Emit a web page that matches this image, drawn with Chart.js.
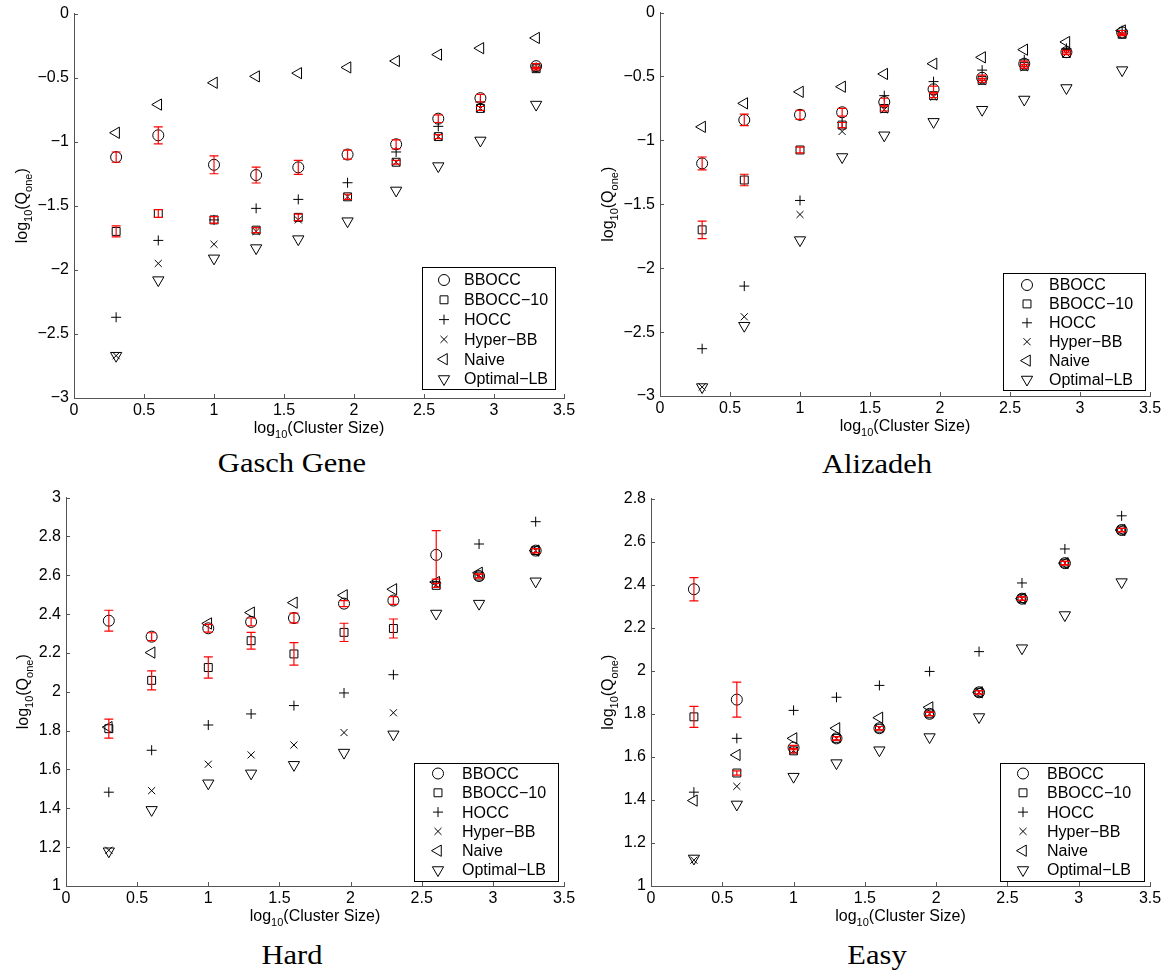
<!DOCTYPE html>
<html>
<head>
<meta charset="utf-8">
<title>Q_one vs cluster size</title>
<script src="https://cdn.jsdelivr.net/npm/chart.js@4.4.1/dist/chart.umd.min.js"></script>
<style>
  body { margin: 0; background: #fff; }
  #fig { position: relative; width: 1171px; height: 976px; overflow: hidden; background: #fff; }
  #fig canvas { position: absolute; }
  .caption {
    position: absolute; width: 300px; text-align: center; white-space: nowrap;
    font-family: "Liberation Serif", "Times New Roman", serif; font-size: 27px; line-height: 27px;
    transform: scaleX(1.13); color: #000;
  }
</style>
</head>
<body>
<div id="fig">
  <canvas id="gasch"></canvas>
  <canvas id="alizadeh"></canvas>
  <canvas id="hard"></canvas>
  <canvas id="easy"></canvas>
  <div class="caption" style="left:142px; top:450px">Gasch Gene</div>
  <div class="caption" style="left:727px; top:451px">Alizadeh</div>
  <div class="caption" style="left:142px; top:942px">Hard</div>
  <div class="caption" style="left:727px; top:942px">Easy</div>
</div>
<script>
// log10 of the cluster sizes
const clusterLog = [0.301, 0.602, 1, 1.301, 1.602, 1.954, 2.301, 2.602, 2.903, 3.301];
const seriesNames = ['BBOCC', 'BBOCC\u221210', 'HOCC', 'Hyper\u2212BB', 'Naive', 'Optimal\u2212LB'];
const xTicks = [0, 0.5, 1, 1.5, 2, 2.5, 3, 3.5];

// Gasch Gene
const gaschBBOCC     = [-1.12, -0.95, -1.18, -1.26, -1.20, -1.10, -1.02, -0.82, -0.66, -0.41];
const gaschBBOCCErr  = [0.04, 0.066, 0.07, 0.062, 0.055, 0.035, 0.035, 0.03, 0.03, 0.02];
const gaschBBOCC10   = [-1.70, -1.56, -1.61, -1.69, -1.59, -1.43, -1.16, -0.96, -0.74, -0.43];
const gaschBBOCC10Err = [0.043, 0.03, 0.025, 0.02, 0.025, 0.02, 0.015, 0.015, 0.015, 0.01];
const gaschHOCC      = [-2.37, -1.77, -1.61, -1.52, -1.45, -1.32, -1.08, -0.88, -0.69, -0.42];
const gaschHyperBB   = [-2.67, -1.95, -1.80, -1.70, -1.61, -1.43, -1.16, -0.96, -0.74, -0.43];
const gaschNaive     = [-0.93, -0.71, -0.54, -0.49, -0.465, -0.42, -0.37, -0.32, -0.27, -0.19];
const gaschOptimalLB = [-2.67, -2.08, -1.91, -1.83, -1.76, -1.62, -1.38, -1.19, -0.99, -0.71];

// Alizadeh
const alizBBOCC      = [-1.18, -0.84, -0.80, -0.78, -0.70, -0.60, -0.51, -0.40, -0.31, -0.155];
const alizBBOCCErr   = [0.05, 0.045, 0.035, 0.03, 0.03, 0.025, 0.02, 0.02, 0.015, 0.015];
const alizBBOCC10    = [-1.70, -1.31, -1.075, -0.88, -0.75, -0.65, -0.53, -0.42, -0.32, -0.17];
const alizBBOCC10Err = [0.068, 0.045, 0.022, 0.02, 0.02, 0.015, 0.015, 0.015, 0.01, 0.01];
const alizHOCC       = [-2.63, -2.14, -1.47, -0.86, -0.65, -0.54, -0.45, -0.37, -0.28, -0.14];
const alizHyperBB    = [-2.93, -2.38, -1.58, -0.93, -0.76, -0.66, -0.54, -0.43, -0.32, -0.17];
const alizNaive      = [-0.894, -0.71, -0.62, -0.58, -0.48, -0.40, -0.35, -0.29, -0.23, -0.14];
const alizOptimalLB  = [-2.93, -2.45, -1.78, -1.13, -0.96, -0.855, -0.76, -0.68, -0.59, -0.45];

// Hard
const hardBBOCC      = [2.366, 2.284, 2.327, 2.36, 2.38, 2.454, 2.47, 2.705, 2.596, 2.727];
const hardBBOCCErr   = [0.054, 0.02, 0.02, 0.02, 0.025, 0.015, 0.02, 0.125, 0.01, 0.01];
const hardBBOCC10    = [1.81, 2.059, 2.125, 2.263, 2.195, 2.306, 2.326, 2.548, 2.596, 2.727];
const hardBBOCC10Err = [0.049, 0.049, 0.055, 0.043, 0.058, 0.047, 0.049, 0.01, 0.01, 0.01];
const hardHOCC       = [1.483, 1.699, 1.829, 1.886, 1.929, 1.994, 2.088, 2.56, 2.761, 2.876];
const hardHyperBB    = [1.184, 1.491, 1.627, 1.675, 1.726, 1.79, 1.892, 2.55, 2.60, 2.727];
const hardNaive      = [1.818, 2.202, 2.352, 2.408, 2.459, 2.497, 2.528, 2.565, 2.613, 2.727];
const hardOptimalLB  = [1.179, 1.392, 1.529, 1.58, 1.624, 1.687, 1.781, 2.403, 2.454, 2.569];

// Easy
const easyBBOCC      = [2.379, 1.866, 1.643, 1.686, 1.733, 1.80, 1.90, 2.335, 2.50, 2.654];
const easyBBOCCErr   = [0.054, 0.081, 0.01, 0.008, 0.008, 0.008, 0.008, 0.008, 0.008, 0.008];
const easyBBOCC10    = [1.786, 1.525, 1.628, 1.686, 1.733, 1.80, 1.90, 2.335, 2.50, 2.654];
const easyBBOCC10Err = [0.049, 0.01, 0.01, 0.008, 0.008, 0.008, 0.008, 0.008, 0.008, 0.008];
const easyHOCC       = [1.436, 1.686, 1.816, 1.877, 1.932, 1.997, 2.089, 2.408, 2.566, 2.72];
const easyHyperBB    = [1.12, 1.463, 1.63, 1.686, 1.733, 1.80, 1.90, 2.335, 2.50, 2.654];
const easyNaive      = [1.397, 1.609, 1.686, 1.733, 1.782, 1.83, 1.90, 2.335, 2.50, 2.654];
const easyOptimalLB  = [1.128, 1.379, 1.508, 1.571, 1.631, 1.692, 1.785, 2.105, 2.259, 2.412];

const AXIS_GREY = '#555';
const SANS = '"Liberation Sans", Arial, Helvetica, sans-serif';
const PAD_L = 70, PAD_T = 12, PAD_R = 20, PAD_B = 40;

const markers = [
  { pointStyle: 'circle',   radius: 5.5, rotation: 0 },
  { pointStyle: 'rect',     radius: 5.6, rotation: 0 },
  { pointStyle: 'cross',    radius: 5,   rotation: 0 },
  { pointStyle: 'crossRot', radius: 5,   rotation: 0 },
  { pointStyle: 'triangle', radius: 6.5, rotation: 270 },
  { pointStyle: 'triangle', radius: 6.5, rotation: 180 }
];

const xTitle = [{ t: 'log' }, { t: '10', sub: true }, { t: '(Cluster Size)' }];
const yTitle = [{ t: 'log' }, { t: '10', sub: true }, { t: '(Q' }, { t: 'one', sub: true }, { t: ')' }];

function fmtTick(v) {
  return String(+Number(v).toFixed(2)).replace('-', '\u2212');
}

// text with subscripts, centred on (cx, cy)
function drawRich(ctx, parts, cx, cy) {
  const big = '16px ' + SANS, small = '11px ' + SANS;
  let w = 0;
  const widths = parts.map(p => {
    ctx.font = p.sub ? small : big;
    const m = ctx.measureText(p.t).width;
    w += m;
    return m;
  });
  let x = cx - w / 2;
  ctx.textAlign = 'left';
  ctx.textBaseline = 'alphabetic';
  ctx.fillStyle = '#000';
  parts.forEach((p, i) => {
    ctx.font = p.sub ? small : big;
    ctx.fillText(p.t, x, cy + 6 + (p.sub ? 5 : 0));
    x += widths[i];
  });
}

// error bars, inward ticks, axis titles and the boxed legend
const panelDecor = {
  id: 'panelDecor',
  afterDatasetsDraw(chart) {
    const ctx = chart.ctx, xs = chart.scales.x, ys = chart.scales.y;
    const cap = 4.5;
    ctx.save();
    ctx.strokeStyle = '#ff0000';
    ctx.lineWidth = 1.2;
    chart.data.datasets.forEach(ds => {
      if (!ds.yErr) return;
      ds.data.forEach((p, i) => {
        const px = xs.getPixelForValue(p.x);
        const top = ys.getPixelForValue(p.y + ds.yErr[i]);
        const bot = ys.getPixelForValue(p.y - ds.yErr[i]);
        ctx.beginPath();
        ctx.moveTo(px, top); ctx.lineTo(px, bot);
        ctx.moveTo(px - cap, top); ctx.lineTo(px + cap, top);
        ctx.moveTo(px - cap, bot); ctx.lineTo(px + cap, bot);
        ctx.stroke();
      });
    });
    ctx.restore();
  },
  afterDraw(chart, args, opts) {
    const ctx = chart.ctx, xs = chart.scales.x, ys = chart.scales.y;
    const area = chart.chartArea;
    ctx.save();

    // ticks point into the axes
    ctx.strokeStyle = AXIS_GREY;
    ctx.lineWidth = 1;
    ctx.beginPath();
    xs.ticks.forEach(t => {
      const px = Math.round(xs.getPixelForValue(t.value)) + 0.5;
      ctx.moveTo(px, area.bottom); ctx.lineTo(px, area.bottom - 4);
    });
    ys.ticks.forEach(t => {
      const py = Math.round(ys.getPixelForValue(t.value)) + 0.5;
      ctx.moveTo(area.left, py); ctx.lineTo(area.left + 4, py);
    });
    ctx.stroke();

    // axis titles
    drawRich(ctx, xTitle, (area.left + area.right) / 2, area.bottom + 29);
    ctx.save();
    ctx.translate(area.left - opts.yTitleGap, (area.top + area.bottom) / 2);
    ctx.rotate(-Math.PI / 2);
    drawRich(ctx, yTitle, 0, 0);
    ctx.restore();

    // legend box
    const lg = opts.legend;
    const bx = Math.round(lg.left - opts.originX) + 0.5;
    const by = Math.round(lg.top - opts.originY) + 0.5;
    ctx.fillStyle = '#fff';
    ctx.fillRect(bx, by, lg.width, lg.height);
    ctx.strokeStyle = '#000';
    ctx.strokeRect(bx, by, lg.width, lg.height);
    ctx.font = '16px ' + SANS;
    ctx.textAlign = 'left';
    ctx.textBaseline = 'middle';
    seriesNames.forEach((name, i) => {
      const ry = lg.firstRow - opts.originY + i * lg.rowStep;
      const m = markers[i];
      ctx.strokeStyle = '#000';
      ctx.fillStyle = 'rgba(0,0,0,0)';
      ctx.lineWidth = 1;
      Chart.helpers.drawPoint(ctx, { pointStyle: m.pointStyle, rotation: m.rotation, radius: m.radius, borderWidth: 1 },
        lg.markerX - opts.originX, ry);
      ctx.fillStyle = '#000';
      ctx.fillText(name, lg.textX - opts.originX, ry + 1);
    });
    ctx.restore();
  }
};

function makePanel(id, rect, yAxis, series, errs, legend, yTitleGap) {
  const canvas = document.getElementById(id);
  const originX = rect.l - PAD_L, originY = rect.t - PAD_T;
  canvas.style.left = originX + 'px';
  canvas.style.top = originY + 'px';
  canvas.width = rect.r - rect.l + PAD_L + PAD_R;
  canvas.height = rect.b - rect.t + PAD_T + PAD_B;

  const datasets = series.map((vals, i) => ({
    label: seriesNames[i],
    data: clusterLog.map((x, j) => ({ x: x, y: vals[j] })),
    yErr: errs[i],
    pointStyle: markers[i].pointStyle,
    pointRotation: markers[i].rotation,
    pointRadius: markers[i].radius,
    pointBorderWidth: 1,
    pointBorderColor: '#000',
    pointBackgroundColor: 'rgba(0,0,0,0)',
    showLine: false
  }));

  return new Chart(canvas, {
    type: 'scatter',
    data: { datasets: datasets },
    plugins: [panelDecor],
    options: {
      responsive: false,
      animation: false,
      events: [],
      layout: { padding: { left: 0, top: PAD_T, right: PAD_R, bottom: 0 }, autoPadding: false },
      plugins: {
        legend: { display: false },
        tooltip: { enabled: false },
        panelDecor: { legend: legend, originX: originX, originY: originY, yTitleGap: yTitleGap }
      },
      scales: {
        x: {
          type: 'linear', min: 0, max: 3.5,
          afterFit: s => { s.height = PAD_B; },
          afterBuildTicks: s => { s.ticks = xTicks.map(v => ({ value: v })); },
          grid: { display: false, drawTicks: false },
          border: { color: AXIS_GREY, width: 1 },
          ticks: { padding: 3, color: '#000', font: { family: SANS, size: 16 }, maxRotation: 0, autoSkip: false, callback: fmtTick }
        },
        y: {
          type: 'linear', min: yAxis.min, max: yAxis.max,
          afterFit: s => { s.width = PAD_L; },
          afterBuildTicks: s => { s.ticks = yAxis.ticks.map(v => ({ value: v })); },
          grid: { display: false, drawTicks: false },
          border: { color: AXIS_GREY, width: 1 },
          ticks: { padding: 5, color: '#000', font: { family: SANS, size: 16 }, autoSkip: false, callback: fmtTick }
        }
      }
    }
  });
}

const negTicks = [-3, -2.5, -2, -1.5, -1, -0.5, 0];
const hardTicks = [1, 1.2, 1.4, 1.6, 1.8, 2, 2.2, 2.4, 2.6, 2.8, 3];
const easyTicks = [1, 1.2, 1.4, 1.6, 1.8, 2, 2.2, 2.4, 2.6, 2.8];

makePanel('gasch', { l: 74, t: 11, r: 564, b: 398 }, { min: -3, max: 0, ticks: negTicks },
  [gaschBBOCC, gaschBBOCC10, gaschHOCC, gaschHyperBB, gaschNaive, gaschOptimalLB],
  [gaschBBOCCErr, gaschBBOCC10Err],
  { left: 422, top: 267, width: 133, height: 122, markerX: 444, textX: 464, firstRow: 280, rowStep: 19.8 }, 53);

makePanel('alizadeh', { l: 660, t: 10, r: 1150, b: 396 }, { min: -3, max: 0, ticks: negTicks },
  [alizBBOCC, alizBBOCC10, alizHOCC, alizHyperBB, alizNaive, alizOptimalLB],
  [alizBBOCCErr, alizBBOCC10Err],
  { left: 1003, top: 273, width: 142, height: 117, markerX: 1027, textX: 1049, firstRow: 285, rowStep: 18.9 }, 53);

makePanel('hard', { l: 66, t: 495, r: 564, b: 886 }, { min: 1, max: 3, ticks: hardTicks },
  [hardBBOCC, hardBBOCC10, hardHOCC, hardHyperBB, hardNaive, hardOptimalLB],
  [hardBBOCCErr, hardBBOCC10Err],
  { left: 414, top: 763, width: 144, height: 118, markerX: 438, textX: 462, firstRow: 773.5, rowStep: 19.3 }, 44);

makePanel('easy', { l: 651, t: 496, r: 1150, b: 886 }, { min: 1, max: 2.8, ticks: easyTicks },
  [easyBBOCC, easyBBOCC10, easyHOCC, easyHyperBB, easyNaive, easyOptimalLB],
  [easyBBOCCErr, easyBBOCC10Err],
  { left: 1000, top: 763, width: 144, height: 118, markerX: 1023, textX: 1047, firstRow: 773.5, rowStep: 19.3 }, 44);
</script>
</body>
</html>
